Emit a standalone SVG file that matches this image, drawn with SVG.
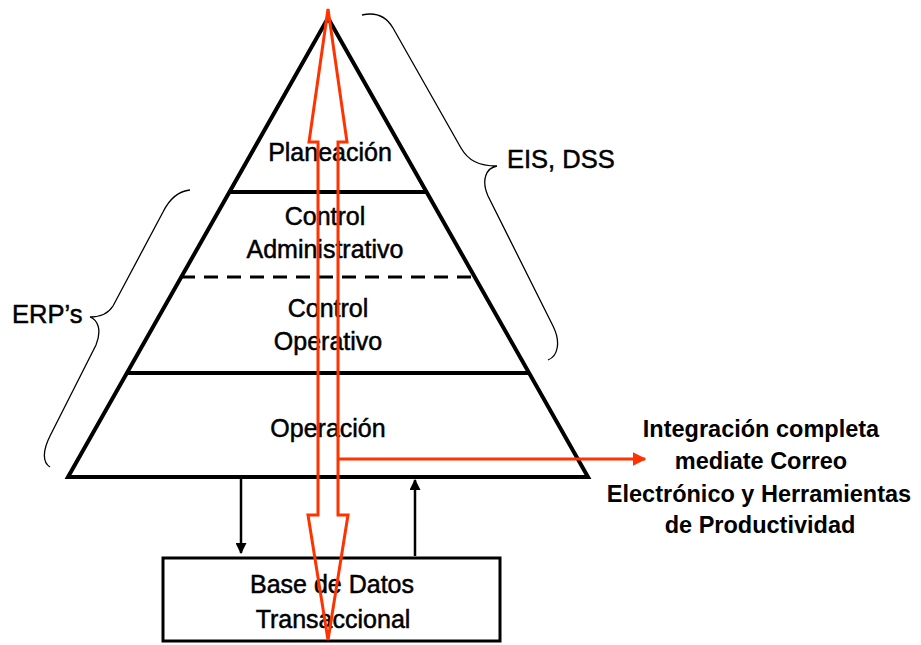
<svg xmlns="http://www.w3.org/2000/svg" width="921" height="645" viewBox="0 0 921 645">
  <style>
    .lbl { font-family: "Liberation Sans", Arial, sans-serif; font-size: 25px; fill: #000; stroke: #000; stroke-width: 0.5; text-anchor: middle; }
    .side { font-family: "Liberation Sans", Arial, sans-serif; font-size: 25.5px; fill: #000; stroke: #000; stroke-width: 0.5; }
    .note { font-family: "Liberation Sans", Arial, sans-serif; font-size: 23.5px; font-weight: bold; fill: #000; text-anchor: middle; }
    .thick { stroke: #000; stroke-width: 4; fill: none; }
    .brace { stroke: #000; stroke-width: 1.3; fill: none; }
    .flow { stroke: #FF3300; stroke-width: 3; fill: none; }
    .link { stroke: #000; stroke-width: 2.5; fill: none; }
  </style>
  <defs>
    <marker id="blackHead" viewBox="0 0 10 10" refX="9" refY="5" markerWidth="4.4" markerHeight="4.4" markerUnits="strokeWidth" orient="auto">
      <path d="M0,0 L10,5 L0,10 Z" fill="#000"/>
    </marker>
    <marker id="redHead" viewBox="0 0 10 10" refX="9" refY="5" markerWidth="4.6" markerHeight="4.6" markerUnits="strokeWidth" orient="auto">
      <path d="M0,0 L10,5 L0,10 Z" fill="#FF3300"/>
    </marker>
  </defs>

  <rect width="921" height="645" fill="#fff"/>

  <!-- pyramid with its level dividers -->
  <g id="pyramid">
    <path class="thick" d="M328,18 L588,477 L68,477 Z" stroke-linejoin="miter"/>
    <line class="thick" x1="229" y1="192" x2="427" y2="192"/>
    <line x1="181" y1="277" x2="475" y2="277" stroke="#000" stroke-width="3" stroke-dasharray="14 9"/>
    <line class="thick" x1="127" y1="373" x2="529" y2="373"/>
  </g>

  <g id="planeacion">
    <text class="lbl" x="330" y="161">Planeación</text>
  </g>
  <g id="control-administrativo">
    <text class="lbl" x="325" y="225">Control</text>
    <text class="lbl" x="325" y="258">Administrativo</text>
  </g>
  <g id="control-operativo">
    <text class="lbl" x="328" y="317">Control</text>
    <text class="lbl" x="328" y="350">Operativo</text>
  </g>
  <g id="operacion">
    <text class="lbl" x="328" y="437">Operación</text>
  </g>

  <!-- transactional database -->
  <g id="base-datos">
    <rect x="163" y="558" width="337" height="83" fill="none" stroke="#000" stroke-width="3"/>
    <text class="lbl" x="332" y="593">Base de Datos</text>
    <text class="lbl" x="333" y="628">Transaccional</text>
  </g>

  <!-- upper brace: EIS, DSS -->
  <g id="eis-dss">
    <path class="brace" d="M362,15 C375,12 386,16 393,28 L461,148 C468,160 478,166 497,166 C486,168 481,180 488,196 L553,326 C561,342 558,356 548,360"/>
    <text class="side" x="507" y="168">EIS, DSS</text>
  </g>

  <!-- lower brace: ERP's -->
  <g id="erps">
    <path class="brace" d="M190,190 C180,191 170,198 163,212 L113,306 C108,314 100,317 90,317 C98,320 102,330 96,345 L50,436 C43,450 42,462 50,467"/>
    <text class="side" x="12" y="323">ERP’s</text>
  </g>

  <!-- integration note -->
  <g id="integracion">
    <text class="note" x="761" y="437">Integración completa</text>
    <text class="note" x="761" y="469">mediate Correo</text>
    <text class="note" x="759" y="502">Electrónico y Herramientas</text>
    <text class="note" x="760" y="533">de Productividad</text>
  </g>

  <g id="connectors">
    <!-- pyramid to database and back -->
    <line class="link" x1="241" y1="479" x2="241" y2="553" marker-end="url(#blackHead)"/>
    <line class="link" x1="415" y1="556" x2="415" y2="480" marker-end="url(#blackHead)"/>
    <!-- double block arrow through every level -->
    <path class="flow" stroke-linejoin="miter" d="M328,9 L347,142 L338,142 L338,515 L348,515 L328,640 L308,515 L318,515 L318,142 L309,142 Z"/>
    <!-- branch to the integration note -->
    <line class="flow" x1="338" y1="459" x2="645" y2="459" marker-end="url(#redHead)"/>
  </g>
</svg>
